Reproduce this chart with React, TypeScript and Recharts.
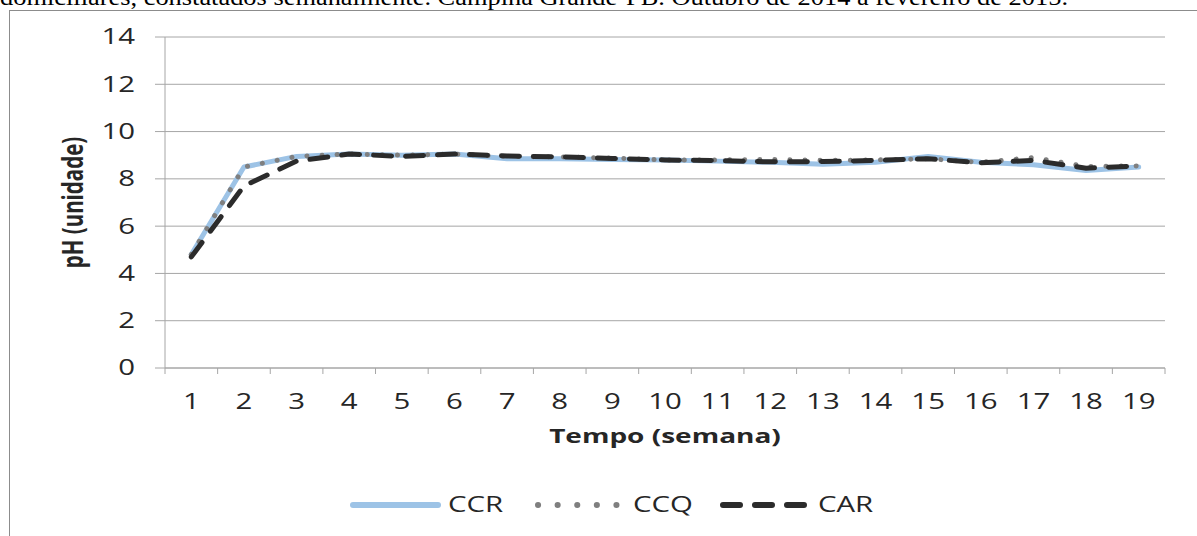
import React from 'react'
import { LineChart, Line, XAxis, YAxis, CartesianGrid, Label } from 'recharts'

const weeks = ['1', '2', '3', '4', '5', '6', '7', '8', '9', '10', '11', '12', '13', '14', '15', '16', '17', '18', '19']
const ccr = [4.8, 8.5, 8.95, 9.05, 9.0, 9.05, 8.85, 8.85, 8.82, 8.8, 8.75, 8.7, 8.62, 8.7, 8.95, 8.7, 8.6, 8.35, 8.5]
const ccq = [4.8, 8.5, 8.95, 9.05, 9.0, 9.05, 8.95, 8.93, 8.88, 8.8, 8.8, 8.82, 8.78, 8.8, 8.85, 8.7, 8.9, 8.52, 8.55]
const car = [4.7, 7.7, 8.75, 9.05, 8.95, 9.05, 8.97, 8.93, 8.86, 8.8, 8.77, 8.72, 8.73, 8.78, 8.85, 8.68, 8.78, 8.45, 8.55]
const yTicks = [0, 2, 4, 6, 8, 10, 12, 14]
const caption = 'domiciliares, constatados semanalmente. Campina Grande-PB. Outubro de 2014 a fevereiro de 2015.'

const data = weeks.map((w, i) => ({ week: w, CCR: ccr[i], CCQ: ccq[i], CAR: car[i] }))

const W = 1197
const H = 536
const M = { top: 37, right: 32, left: 75, bottom: 108 }
const PLOT_W = W - 165 - M.right
const HALF = PLOT_W / weeks.length / 2
const FONT = '"Open Sans", sans-serif'
const GRID = '#a6a6a6'
const TXT = '#262626'
const SX = 1.4 // the picture's text is stretched sideways

const series = [
  { key: 'CCR', color: '#9dc3e6', dash: undefined as string | undefined, legendDash: undefined as string | undefined, lx: 350 },
  { key: 'CCQ', color: '#7f7f7f', dash: '0.1 15', legendDash: '0.1 19.5', lx: 535 },
  { key: 'CAR', color: '#2b2b2b', dash: '18 14', legendDash: '17 15', lx: 720 },
]

function XTick(props: any) {
  const { x, y, payload, index, visibleTicksCount } = props
  const axisY = y - 22
  return (
    <g>
      <line x1={x - HALF} x2={x - HALF} y1={axisY} y2={axisY + 6} stroke={GRID} />
      {index === visibleTicksCount - 1 && (
        <line x1={x + HALF} x2={x + HALF} y1={axisY} y2={axisY + 6} stroke={GRID} />
      )}
      <text transform={`translate(${x},${axisY + 34}) scale(${SX},1)`} dy="0.35em" textAnchor="middle" fontSize={21} fill={TXT} fontFamily={FONT}>
        {payload.value}
      </text>
    </g>
  )
}

function YTick(props: any) {
  const { x, y, payload } = props
  return (
    <text transform={`translate(${x},${y}) scale(${SX},1)`} dy="0.35em" textAnchor="end" fontSize={21} fill={TXT} fontFamily={FONT}>
      {payload.value}
    </text>
  )
}

const XTitle = (props: any) => {
  const vb = props.viewBox
  return (
    <text transform={`translate(${vb.x + vb.width / 2},${vb.y + 68}) scale(${SX},1)`} dy="0.35em" textAnchor="middle" fontSize={20} fontWeight={700} fill={TXT} fontFamily={FONT}>
      Tempo (semana)
    </text>
  )
}

const YTitle = (props: any) => {
  const vb = props.viewBox
  return (
    <text transform={`translate(${vb.x - 2},${vb.y + vb.height / 2}) scale(${SX},1) rotate(-90)`} dy="0.35em" textAnchor="middle" fontSize={20.5} fontWeight={700} fill={TXT} fontFamily={FONT}>
      pH (unidade)
    </text>
  )
}

export default function App() {
  return (
    <div style={{ position: 'absolute', left: 0, top: 0, width: W, height: H, overflow: 'hidden', background: '#fff' }}>
      <svg width={W} height={10} style={{ position: 'absolute', left: 0, top: 0 }}>
        <text x={0} y={5} fontSize={24} fontFamily='"Liberation Serif", "Times New Roman", serif' textLength={1068} lengthAdjust="spacingAndGlyphs">
          {caption}
        </text>
      </svg>
      <div style={{ position: 'absolute', left: 9, top: 10, width: 1300, height: 600, border: '1px solid #8c8c8c' }} />
      <div style={{ position: 'absolute', left: 0, top: 0 }}>
        <LineChart width={W} height={H} data={data} margin={M}>
          <CartesianGrid horizontal vertical={false} stroke={GRID} />
          <XAxis
            dataKey="week"
            padding={{ left: HALF, right: HALF }}
            axisLine={{ stroke: GRID }}
            tickLine={false}
            tickSize={6}
            tickMargin={16}
            height={60}
            interval={0}
            tick={<XTick />}
          >
            <Label content={<XTitle />} />
          </XAxis>
          <YAxis
            width={90}
            domain={[0, 14]}
            ticks={yTicks}
            interval={0}
            axisLine={{ stroke: GRID }}
            tickLine={{ stroke: GRID }}
            tickSize={10}
            tickMargin={20}
            tick={<YTick />}
          >
            <Label content={<YTitle />} />
          </YAxis>
          {series.map((s) => (
            <Line
              key={s.key}
              type="linear"
              dataKey={s.key}
              stroke={s.color}
              strokeWidth={5}
              strokeDasharray={s.dash}
              strokeLinecap="round"
              strokeLinejoin="round"
              dot={false}
              activeDot={false}
              isAnimationActive={false}
            />
          ))}
        </LineChart>
      </div>
      <svg width={W} height={30} style={{ position: 'absolute', left: 0, top: 490 }}>
        {series.map((s) => (
          <g key={s.key}>
            <line x1={s.lx + 3} x2={s.lx + 88} y1={15} y2={15} stroke={s.color} strokeWidth={6} strokeLinecap="round" strokeDasharray={s.legendDash} />
            <text transform={`translate(${s.lx + 98},15) scale(${SX},1)`} dy="0.35em" fontSize={21} fill={TXT} fontFamily={FONT}>
              {s.key}
            </text>
          </g>
        ))}
      </svg>
    </div>
  )
}
